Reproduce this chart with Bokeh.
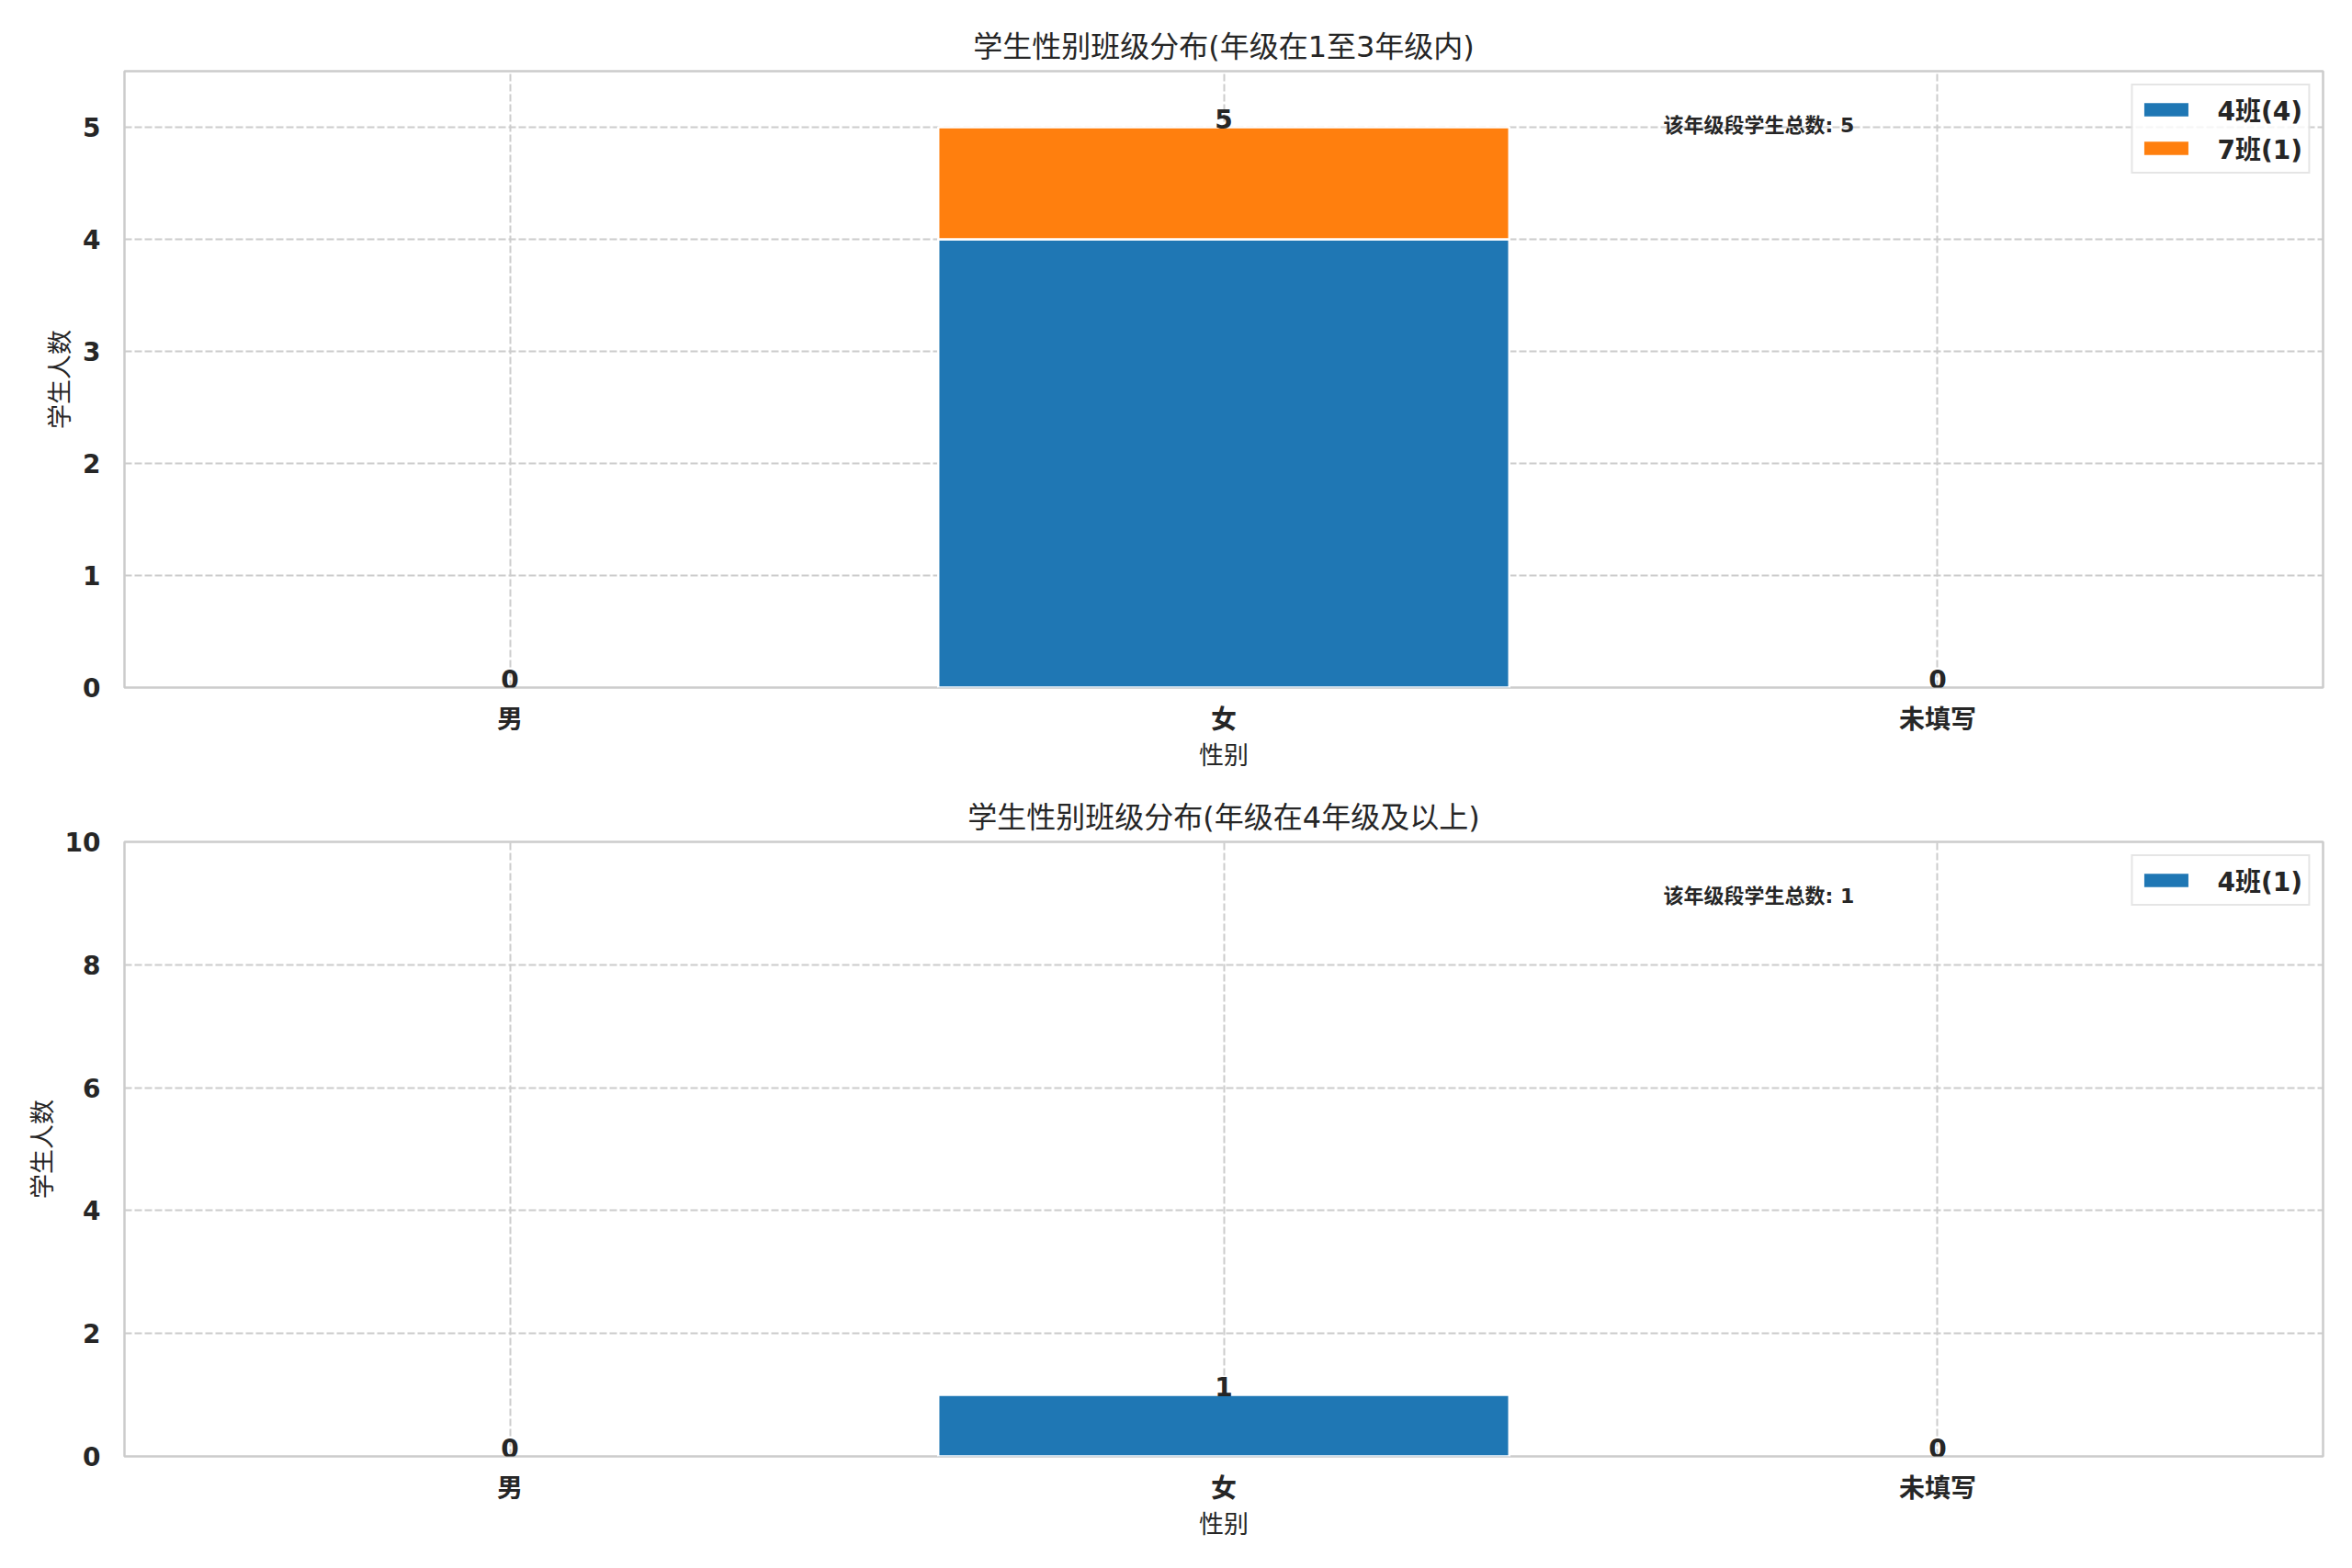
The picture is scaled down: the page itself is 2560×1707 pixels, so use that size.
from bokeh.plotting import figure
from bokeh.layouts import column
from bokeh.models import Range1d, FixedTicker, Label, ColumnDataSource
from bokeh.embed import file_html
from bokeh.resources import INLINE
from bokeh.core.properties import value

# ---------------- data ----------------
categories = ["男", "女", "未填写"]

top_series_names = ["4班(4)", "7班(1)"]
top_class4 = [0, 4, 0]
top_class7 = [0, 1, 0]

bottom_series_names = ["4班(1)"]
bottom_class4 = [0, 1, 0]

top_title = "学生性别班级分布(年级在1至3年级内)"
bottom_title = "学生性别班级分布(年级在4年级及以上)"
x_label = "性别"
y_label = "学生人数"
note_prefix = "该年级段学生总数"

top_y_ticks = [0, 1, 2, 3, 4, 5]
top_y_max = 5.5
bottom_y_ticks = [0, 2, 4, 6, 8, 10]
bottom_y_max = 10

series_colors = ["#1f77b4", "#ff7f0e"]

# ---------------- styling ----------------
FONT = "DejaVu Sans, Noto Sans CJK SC"
TXT = "#262626"
GRID = "#cccccc"
W = 2544


def make_fig(title, series, names, yticks, ymax, height, b_top, b_bottom):
    xs = list(range(len(categories)))
    p = figure(width=W, height=height, output_backend="svg", toolbar_location=None,
               x_range=Range1d(-0.54, len(categories) - 1 + 0.54),
               y_range=Range1d(0, ymax),
               min_border_left=135, min_border_right=16,
               min_border_top=b_top, min_border_bottom=b_bottom)
    p.background_fill_color = "white"
    p.border_fill_color = "white"
    p.outline_line_color = GRID
    p.outline_line_width = 2.5

    p.title.text = title
    p.title.align = "center"
    p.title.text_font = FONT
    p.title.text_font_size = "32px"
    p.title.text_font_style = "normal"
    p.title.text_color = TXT
    p.title.standoff = 15

    data = {"x": xs}
    keys = []
    alphas = []
    for i, s in enumerate(series):
        data[f"s{i}"] = s
        data[f"la{i}"] = [1.0 if v > 0 else 0.0 for v in s]
        keys.append(f"s{i}")
        alphas.append(f"la{i}")
    src = ColumnDataSource(data)
    p.vbar_stack(stackers=keys, x="x", width=0.8, source=src,
                 fill_color=series_colors[:len(series)], line_color="white",
                 line_alpha=alphas, line_width=2.5, legend_label=names)

    totals = [sum(v) for v in zip(*series)]
    p.text(x=xs, y=totals, text=[str(t) for t in totals],
           text_align="center", text_baseline="bottom",
           text_font=value(FONT), text_font_size="28px",
           text_font_style="bold", text_color=TXT, y_offset=1)

    xr = p.x_range
    p.add_layout(Label(x=xr.start + 0.70 * (xr.end - xr.start), y=ymax * 0.912,
                       text=f"{note_prefix}: {sum(totals)}",
                       text_align="left", text_baseline="middle",
                       text_font=FONT, text_font_size="22px",
                       text_font_style="bold", text_color=TXT))

    # axes
    p.xaxis.ticker = FixedTicker(ticks=xs)
    p.xaxis.major_label_overrides = {i: c for i, c in enumerate(categories)}
    p.yaxis.ticker = FixedTicker(ticks=yticks)
    for ax in (p.xaxis, p.yaxis):
        ax.axis_line_color = None
        ax.major_tick_line_color = None
        ax.minor_tick_line_color = None
        ax.major_label_text_font = FONT
        ax.major_label_text_font_size = "28px"
        ax.major_label_text_font_style = "bold"
        ax.major_label_text_color = TXT
        ax.axis_label_text_font = FONT
        ax.axis_label_text_font_size = "27px"
        ax.axis_label_text_font_style = "normal"
        ax.axis_label_text_color = TXT
    p.xaxis.axis_label = x_label
    p.yaxis.axis_label = y_label
    p.xaxis.major_label_standoff = 12
    p.yaxis.major_label_standoff = 20
    p.xaxis.axis_label_standoff = 4
    p.yaxis.axis_label_standoff = 6

    for g in (p.xgrid, p.ygrid):
        g.grid_line_color = GRID
        g.grid_line_width = 2
        g.grid_line_dash = "8 3"

    lg = p.legend[0]
    lg.location = "top_right"
    lg.margin = 14
    lg.padding = 6
    lg.spacing = 2
    lg.glyph_width = 60
    lg.glyph_height = 18
    lg.label_standoff = 26
    lg.label_text_font = FONT
    lg.label_text_font_size = "28px"
    lg.label_text_font_style = "bold"
    lg.label_text_color = TXT
    lg.border_line_color = GRID
    lg.border_line_width = 2
    lg.background_fill_color = "white"
    lg.background_fill_alpha = 0.8
    return p


p1 = make_fig(top_title, [top_class4, top_class7], top_series_names,
              top_y_ticks, top_y_max, 848, 77, 100)
p2 = make_fig(bottom_title, [bottom_class4], bottom_series_names,
              bottom_y_ticks, bottom_y_max, 837, 68, 100)

layout = column(p1, p2, spacing=0)
open("out.html", "w").write(file_html(layout, INLINE))
